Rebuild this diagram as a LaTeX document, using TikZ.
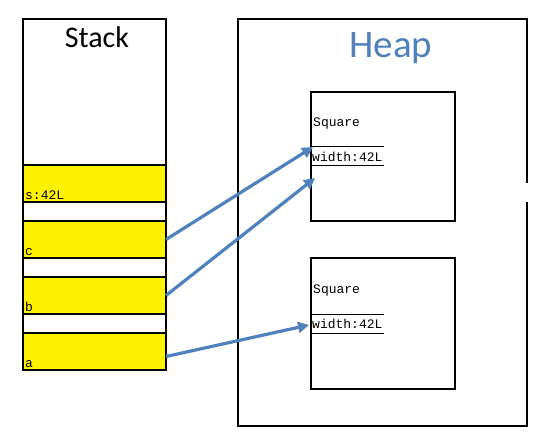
\documentclass[tikz,border=0pt]{standalone}
\usepackage{fontspec}
\setmainfont{Carlito}
\newfontfamily\monof{Liberation Mono}
\usetikzlibrary{arrows.meta}
\definecolor{hblue}{RGB}{79,129,189}
\begin{document}
\begin{tikzpicture}[x=1pt,y=-1pt,
  frame/.style={draw=black,line width=1.8pt,inner sep=0pt,outer sep=0pt,anchor=north west},
  cell/.style={frame,fill=yellow,minimum width=143pt,minimum height=37pt},
  sq/.style={frame,minimum width=144pt},
  mono/.style={font=\monof\fontsize{13}{13}\selectfont,inner sep=0pt,anchor=base west},
  sep/.style={draw=black,line width=0.8pt},
  arr/.style={draw=hblue,line width=3.2pt,-{Triangle[length=11pt,width=11pt]}}]
\useasboundingbox (0,0) rectangle (542,432);
% stack
\node[frame,minimum width=143pt,minimum height=351pt] (stack) at (23,19) {};
\node[font=\fontsize{30}{30}\selectfont,anchor=base,inner sep=0pt] (stacklbl) at (97,47) {Stack};
\node[cell] (s) at (23,165) {};
\node[cell] (c) at (23,221) {};
\node[cell] (b) at (23,277) {};
\node[cell] (a) at (23,333) {};
\node[mono] (st) at (25,199) {s:42L};
\node[mono] (ct) at (25,255) {c};
\node[mono] (bt) at (25,311) {b};
\node[mono] (at) at (25,367) {a};
% heap
\node[inner sep=0pt,outer sep=0pt,anchor=north west,minimum width=289pt,minimum height=407pt] (heap) at (238,19) {};
\draw[line width=1.8pt] (527,183) -- (heap.north east) -- (heap.north west) -- (heap.south west) -- (heap.south east) -- (527,202);
\node[font=\fontsize{39}{39}\selectfont,text=hblue,anchor=base,inner sep=0pt] (heaplbl) at (391,57) {Heap};
% squares
\node[sq,minimum height=129pt] (sq1) at (311,92) {};
\node[mono] (sq1t) at (313,126) {Square};
\draw[sep] (311,146) -- (384,146);
\draw[sep] (311,165) -- (384,165);
\node[mono] (sq1w) at (312,161) {width:42L};
\node[sq,minimum height=131pt] (sq2) at (311,258) {};
\node[mono] (sq2t) at (313,293) {Square};
\draw[sep] (311,314) -- (384,314);
\draw[sep] (311,333) -- (384,333);
\node[mono] (sq2w) at (312,328) {width:42L};
% arrow ends
\coordinate (t1) at (313,147);
\coordinate (t2) at (315,178);
\coordinate (t3) at (309,325);
\draw[arr] (c.east) -- (t1);
\draw[arr] (b.east) -- (t2);
\draw[arr] ([yshift=-5pt]a.east) -- (t3);
\end{tikzpicture}
\end{document}
